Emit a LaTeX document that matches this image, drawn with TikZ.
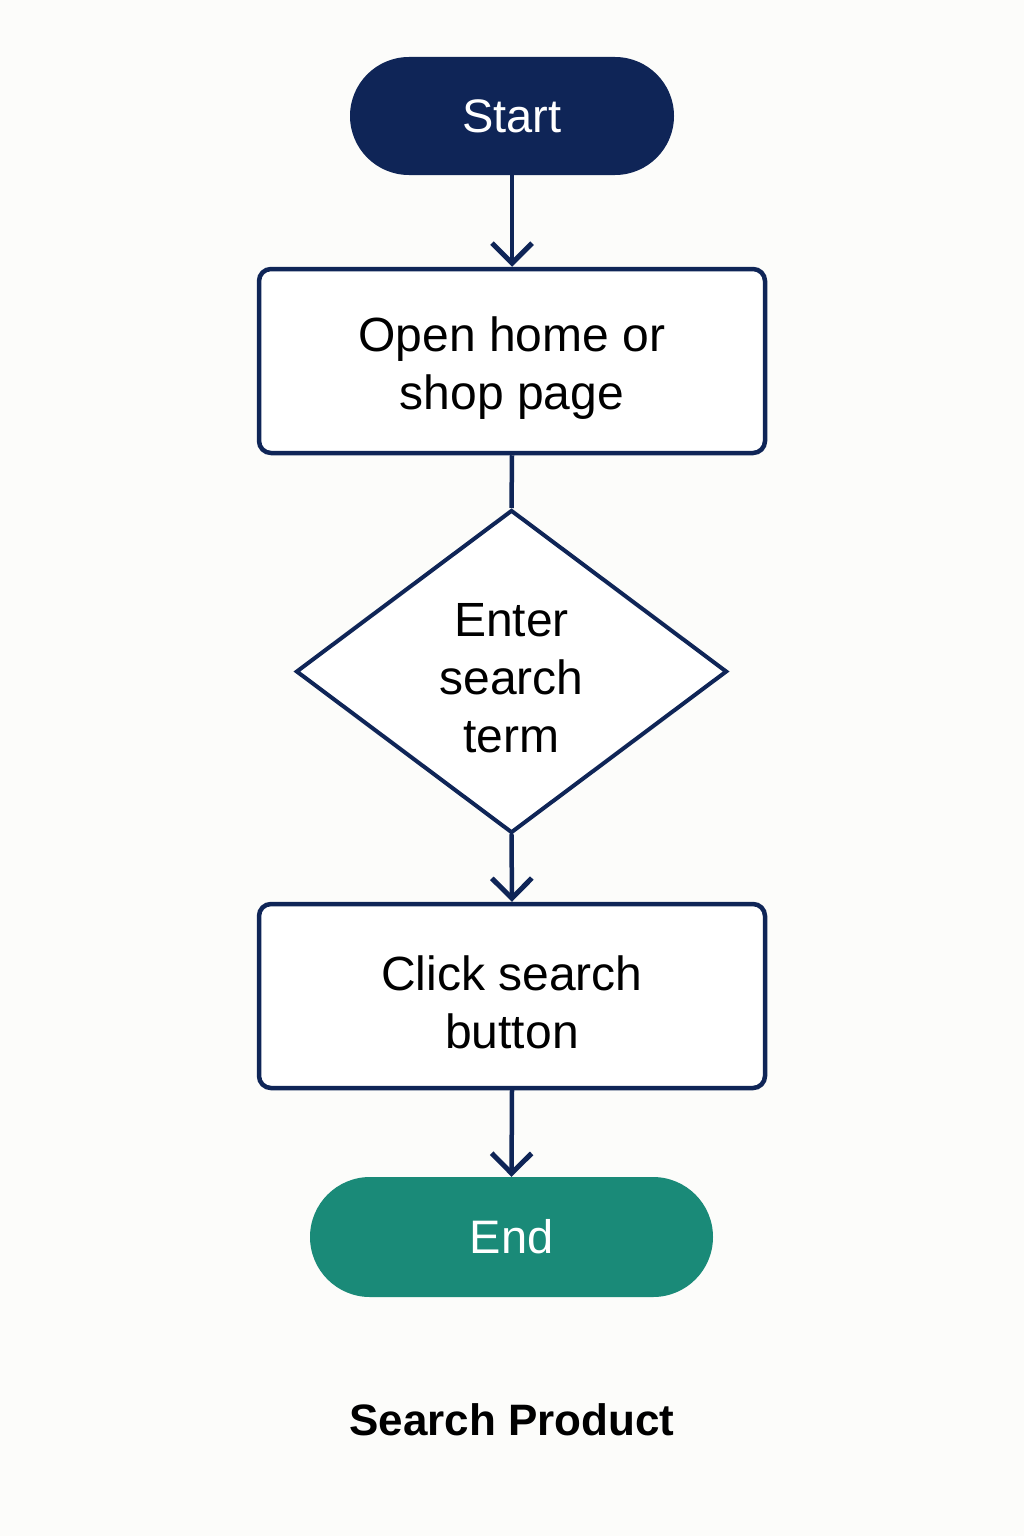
\documentclass[tikz,border=0pt]{standalone}
\usepackage{fontspec}
\setmainfont{Liberation Sans}
\usetikzlibrary{arrows.meta,shapes.geometric}
\definecolor{navy}{HTML}{0F2557}
\definecolor{teal}{HTML}{1A8A78}
\definecolor{bg}{HTML}{FCFCFA}
\tikzset{
  term/.style={draw=none, rounded corners=59pt, inner sep=0pt, text=white, font=\fontsize{47}{56}\selectfont},
  procbox/.style={draw=navy, line width=4.5pt, rounded corners=12pt, fill=white, minimum width=506pt, minimum height=184pt, inner sep=0pt, align=center, font=\fontsize{48}{58}\selectfont},
  decbox/.style={draw=navy, line width=4pt, fill=white, diamond, minimum width=431pt, minimum height=323pt, inner sep=0pt, align=center, font=\fontsize{48}{58}\selectfont},
  flow/.style={draw=navy, line width=4.5pt, line cap=round, -{Straight Barb[length=20pt,width=40pt,line width=5pt]}},
  plain/.style={draw=navy, line width=4.5pt}
}
\begin{document}
\begin{tikzpicture}[x=1pt,y=-1pt]
\fill[bg] (0,0) rectangle (1024,1536);
\useasboundingbox (0,0) rectangle (1024,1536);
\node[term, fill=navy, minimum width=324pt, minimum height=118pt] (start) at (512,116) {Start};
\node[procbox] (open) at (512,361) {\rule{0pt}{48pt}Open home or\\shop page};
\node[decbox] (enter) at (511.5,671.5) {\rule{0pt}{46pt}Enter\\search\\term};
\node[procbox] (click) at (512,996) {\rule{0pt}{48pt}Click search\\button};
\node[term, fill=teal, rounded corners=60pt, minimum width=403pt, minimum height=120pt] (end) at (511.5,1237) {End};
\node[font=\fontsize{44}{52}\selectfont\bfseries] (title) at (512,1420) {Search Product};
\draw[flow] (start.south) -- (open.north);
\draw[plain] (open.south) -- (enter.north);
\draw[flow] (enter.south) -- (click.north);
\draw[flow] (click.south) -- (end.north);
\end{tikzpicture}
\end{document}
